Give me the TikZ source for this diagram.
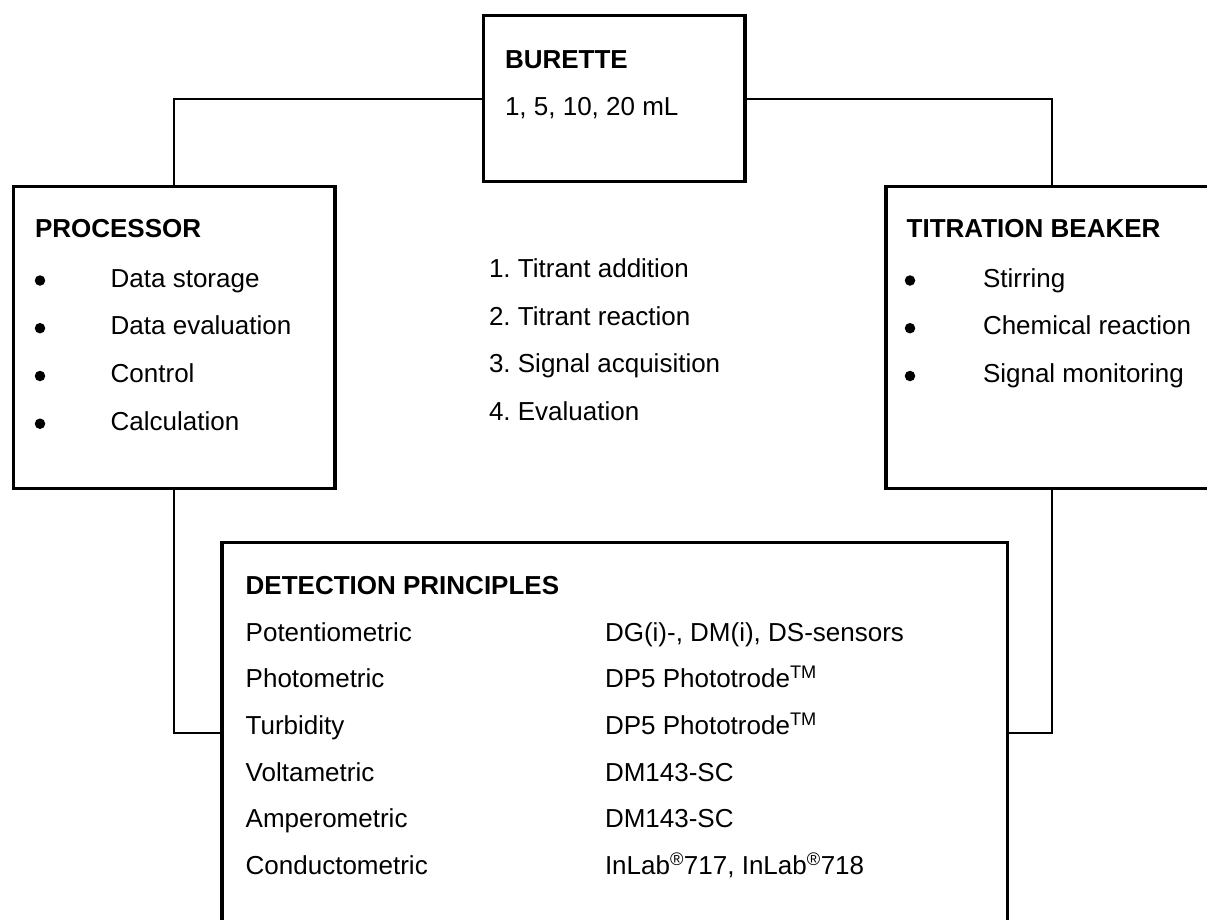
\documentclass[tikz,border=0pt]{standalone}
\usepackage{fontspec}
\setmainfont{Liberation Sans}
\frenchspacing
\begin{document}
\begin{tikzpicture}[x=1pt,y=-1pt,
  box/.style={draw, line width=3.5pt, inner sep=0pt, outer sep=0pt},
  wire/.style={line width=2pt},
  txt/.style={anchor=base west, inner sep=0pt, outer sep=0pt, font=\fontsize{26}{31}\selectfont\frenchspacing},
  hd/.style={txt, font=\fontsize{26}{31}\selectfont\bfseries},
  bul/.style={circle, fill, inner sep=0pt, outer sep=0pt, minimum size=10.5pt}]
\useasboundingbox (0,0) rectangle (1207,919);
\clip (0,0) rectangle (1207,919);
% boxes
\node[box, minimum width=261.3pt, minimum height=166pt] (bur) at (614.35,98.7) {};
\node[box, minimum width=321.3pt, minimum height=301.8pt] (proc) at (174.35,337.4) {};
\node[box, minimum width=331pt, minimum height=301.8pt] (tit) at (1051.5,337.4) {};
\node[box, minimum width=785.5pt, minimum height=381pt] (det) at (614.75,733) {};
% connectors
\draw[wire] (bur.west) -| (proc.north);
\draw[wire] (bur.east) -| (tit.north);
\draw[wire] (proc.south) |- (det.west);
\draw[wire] (tit.south) |- (det.east);
% burette
\node[hd] (burh) at (505,68.3) {BURETTE};
\node[txt] (burt) at (505,115) {1, 5, 10, 20 mL};
% processor
\node[hd] (proch) at (35,237.3) {PROCESSOR};
\node[bul] (pb1) at (40,280.5) {};
\node[bul] (pb2) at (40,328.2) {};
\node[bul] (pb3) at (40,376) {};
\node[bul] (pb4) at (40,423.7) {};
\node[txt] (p1) at (110.7,287) {Data storage};
\node[txt] (p2) at (110.7,334.7) {Data evaluation};
\node[txt] (p3) at (110.7,382.5) {Control};
\node[txt] (p4) at (110.7,430.2) {Calculation};
% steps
\node[txt] (s1) at (489,277.3) {1. Titrant addition};
\node[txt] (s2) at (489,325) {2. Titrant reaction};
\node[txt] (s3) at (489,372.7) {3. Signal acquisition};
\node[txt] (s4) at (489,420.4) {4. Evaluation};
% titration beaker
\node[hd] (tith) at (906.7,237.3) {TITRATION BEAKER};
\node[bul] (tb1) at (910,280.5) {};
\node[bul] (tb2) at (910,328.2) {};
\node[bul] (tb3) at (910,376) {};
\node[txt] (t1) at (983,287) {Stirring};
\node[txt] (t2) at (983,334.7) {Chemical reaction};
\node[txt] (t3) at (983,382.5) {Signal monitoring};
% detection principles
\node[hd] (deth) at (245.7,594) {DETECTION PRINCIPLES};
\node[txt] (d1) at (245.7,641) {Potentiometric};
\node[txt] (d2) at (245.7,687.7) {Photometric};
\node[txt] (d3) at (245.7,734.4) {Turbidity};
\node[txt] (d4) at (245.7,781) {Voltametric};
\node[txt] (d5) at (245.7,827.7) {Amperometric};
\node[txt] (d6) at (245.7,874.4) {Conductometric};
\node[txt] (e1) at (605,641) {DG(i)-, DM(i), DS-sensors};
\node[txt] (e2) at (605,687.7) {DP5 Phototrode\textsuperscript{TM}};
\node[txt] (e3) at (605,734.4) {DP5 Phototrode\textsuperscript{TM}};
\node[txt] (e4) at (605,781) {DM143-SC};
\node[txt] (e5) at (605,827.7) {DM143-SC};
\node[txt] (e6) at (605,874.4) {InLab\textsuperscript{®}717, InLab\textsuperscript{®}718};
\end{tikzpicture}
\end{document}
